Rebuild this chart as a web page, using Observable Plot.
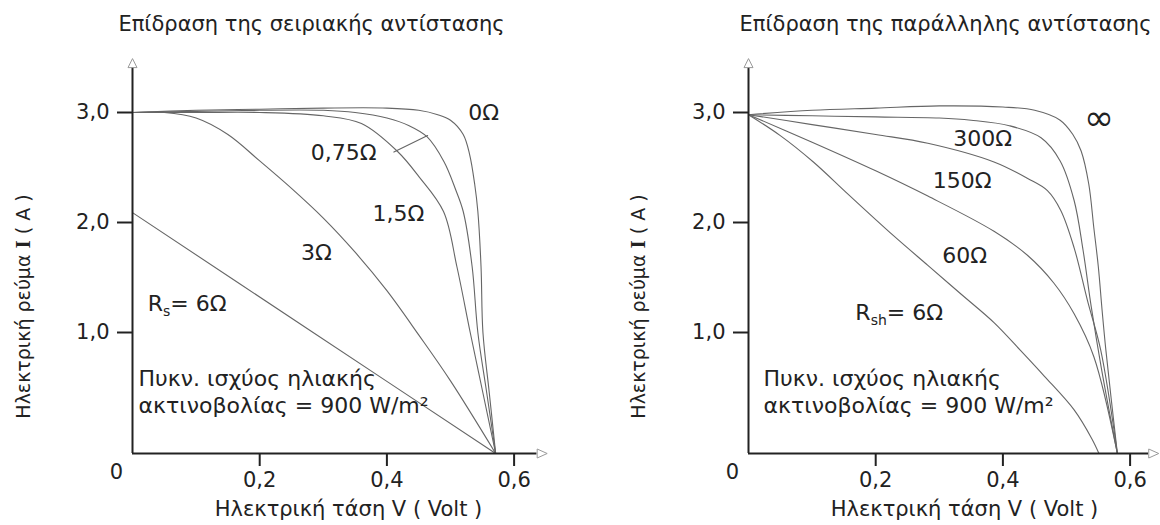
<!DOCTYPE html>
<html><head><meta charset="utf-8">
<script src="https://cdn.jsdelivr.net/npm/d3@7"></script>
<script src="https://cdn.jsdelivr.net/npm/@observablehq/plot@0.6"></script>
<style>
html,body{margin:0;padding:0;background:#fff;}
#wrap{display:flex;width:1160px;height:525px;overflow:hidden;}
#wrap svg{flex:none;}
</style></head><body><div id="wrap"></div>
<script>
// ---------- data ----------
const xTicks = [0.2, 0.4, 0.6];
const yTicks = [1.0, 2.0, 3.0];

// left panel: series resistance (V in volt, I in ampere)
const rs0   = [[0,3.0],[0.1,3.02],[0.2,3.03],[0.3,3.04],[0.4,3.04],[0.45,3.02],[0.48,2.98],[0.5,2.93],[0.52,2.8],[0.53,2.62],[0.538,2.35],[0.543,2.1],[0.548,1.6],[0.551,1.0],[0.561,0.5],[0.571,0]];
const rs075 = [[0,3.0],[0.1,3.01],[0.2,3.02],[0.3,3.02],[0.35,3.0],[0.4,2.95],[0.435,2.88],[0.463,2.78],[0.49,2.55],[0.508,2.3],[0.52,2.1],[0.534,1.6],[0.543,1.0],[0.557,0.5],[0.571,0]];
const rs15  = [[0,3.0],[0.1,3.0],[0.2,3.0],[0.3,2.97],[0.36,2.9],[0.416,2.65],[0.45,2.42],[0.489,2.1],[0.51,1.6],[0.531,1.0],[0.551,0.5],[0.571,0]];
const rs3   = [[0,3.0],[0.05,3.0],[0.1,2.95],[0.15,2.8],[0.2,2.56],[0.25,2.31],[0.3,2.04],[0.35,1.73],[0.4,1.38],[0.45,0.98],[0.5,0.6],[0.571,0]];
const rs6   = [[0,2.09],[0.284,1.0],[0.571,0]];
const leader075 = [[0.411,2.64],[0.464,2.79]];

// right panel: shunt resistance
const rshInf = [[0,2.98],[0.1,3.02],[0.2,3.04],[0.3,3.06],[0.4,3.05],[0.45,3.02],[0.49,2.93],[0.51,2.8],[0.523,2.65],[0.535,2.35],[0.543,1.95],[0.55,1.6],[0.556,1.2],[0.562,0.85],[0.58,0]];
const rsh300 = [[0,2.98],[0.1,2.97],[0.2,2.96],[0.3,2.95],[0.35,2.93],[0.41,2.88],[0.46,2.77],[0.49,2.56],[0.512,2.2],[0.526,1.75],[0.539,1.23],[0.555,0.7],[0.58,0]];
const rsh150 = [[0,2.98],[0.1,2.89],[0.2,2.8],[0.282,2.72],[0.386,2.55],[0.439,2.4],[0.47,2.29],[0.491,2.11],[0.512,1.77],[0.533,1.29],[0.554,0.85],[0.58,0]];
const rsh60  = [[0,2.98],[0.1,2.73],[0.2,2.47],[0.282,2.24],[0.386,1.92],[0.439,1.7],[0.48,1.45],[0.512,1.17],[0.543,0.8],[0.58,0]];
const rsh6   = [[0,2.98],[0.05,2.79],[0.102,2.55],[0.156,2.26],[0.228,1.88],[0.282,1.61],[0.334,1.35],[0.386,1.09],[0.428,0.85],[0.465,0.64],[0.512,0.36],[0.54,0.12],[0.551,0]];

// curve labels: text, V, I
const leftLabels  = [["0Ω",0.552,3.0],["0,75Ω",0.332,2.636],["1,5Ω",0.418,2.08],["3Ω",0.289,1.72]];
const rightLabels = [["300Ω",0.368,2.76],["150Ω",0.336,2.38],["60Ω",0.34,1.70]];
const infLabel = ["∞",0.551,2.945];
const leftSubLabel  = ["R|s|= 6Ω",0.024,1.26];
const rightSubLabel = ["R|sh|= 6Ω",0.168,1.18];

const titles = ["Επίδραση της σειριακής αντίστασης","Επίδραση της παράλληλης αντίστασης"];
const yTitle = "Ηλεκτρική ρεύμα |I| ( A )";
const xTitle = "Ηλεκτρική τάση V ( Volt )";
const note = "Πυκν. ισχύος ηλιακής\nακτινοβολίας = 900 W/m²";

// ---------- drawing ----------
const fmt = d => d.toFixed(1).replace(".", ",");
const FONT = "DejaVu Sans";
const INK = "#222";
const CURVE = "#666";
// the printed current axis is not evenly spaced: 0→1 is drawn a little longer than 1→2, 2→3
const yWarp = I => (I <= 1 ? I * 121 : 121 + (I - 1) * 110);
const upTri = {draw(c){c.moveTo(0,0);c.lineTo(-4.5,9);c.lineTo(4.5,9);c.closePath();}};
const rightTri = {draw(c){c.moveTo(0,0);c.lineTo(-10,-4.5);c.lineTo(-10,4.5);c.closePath();}};

function toRows(series){
  return series.flatMap(([name, pts]) => pts.map(([V,I]) => ({name, V, I})));
}

function panel(cfg){
  const ml = cfg.ml;
  const at = (x, y) => ({frameAnchor: "top-left", dx: x - ml, dy: y, lineAnchor: "middle"});
  const svg = Plot.plot({
    width: 580, height: 525,
    marginLeft: ml, marginTop: 0, marginRight: 0, marginBottom: 72,
    x: {domain: [0, 0.6], range: [ml, ml + 0.6 * 636]},
    y: {transform: yWarp, domain: [0, yWarp(3)], range: [453, 112]},
    style: {fontFamily: FONT, fontSize: "21px", color: INK, background: "white"},
    marks: [
      Plot.line(toRows(cfg.curves), {x: "V", y: "I", z: "name", stroke: CURVE, strokeWidth: 1.1, curve: "catmull-rom"}),
      cfg.leader ? Plot.line(cfg.leader, {x: d => d[0], y: d => d[1], stroke: CURVE, strokeWidth: 1.1}) : null,
      Plot.ruleX([0], {y1: 0, y2: 3.41, stroke: INK, strokeWidth: 2}),
      Plot.ruleY([0], {x1: 0, x2: cfg.xArrow - 0.016, stroke: INK, strokeWidth: 2}),
      Plot.dot([[0, 3.49]], {x: d => d[0], y: d => d[1], symbol: upTri, r: 5, stroke: "#999", fill: "white", strokeWidth: 1}),
      Plot.dot([[cfg.xArrow, 0]], {x: d => d[0], y: d => d[1], symbol: rightTri, r: 5, stroke: "#999", fill: "white", strokeWidth: 1}),
      Plot.axisY(yTicks, {anchor: "left", tickSize: 15, tickPadding: 8, tickFormat: fmt, stroke: INK, strokeWidth: 2, fill: INK, fontSize: 21, label: null}),
      Plot.axisX(xTicks, {anchor: "bottom", tickSize: 13, tickPadding: 6, tickFormat: fmt, stroke: INK, strokeWidth: 2, fill: INK, fontSize: 21, label: null}),
      Plot.text(["0"], {x: 0, y: 0, dx: -16, dy: 19, fill: INK, fontSize: 21}),
      Plot.text(cfg.labels, {x: d => d[1], y: d => d[2], text: d => d[0], fill: INK, fontSize: 22}),
      cfg.inf ? Plot.text([cfg.inf], {x: d => d[1], y: d => d[2], text: d => d[0], fill: INK, fontSize: 36}) : null,
      Plot.text([cfg.sub], {x: d => d[1], y: d => d[2], text: d => d[0], textAnchor: "start", fill: INK, fontSize: 22}),
      Plot.text([note], {x: 0, y: 0.52, dx: cfg.noteDx, textAnchor: "start", lineAnchor: "middle", lineHeight: 1.27, fill: INK, fontSize: 22}),
      Plot.text([cfg.title], {...at(cfg.titleX, 24), textAnchor: "middle", fill: INK, fontSize: 21}),
      Plot.text([xTitle], {...at(ml + 216, 509), textAnchor: "middle", fill: INK, fontSize: 21}),
      Plot.text([yTitle], {...at(cfg.yTitleX, 306), rotate: -90, textAnchor: "middle", fill: INK, fontSize: 19})
    ]
  });
  const ns = "http://www.w3.org/2000/svg";
  svg.querySelectorAll("text").forEach(t => {
    const full = t.textContent;
    if (!full.includes("|")) return;
    const parts = full.split("|");
    const isY = full.startsWith("Ηλεκτρική ρεύμα");
    while (t.firstChild) t.removeChild(t.firstChild);
    parts.forEach((p, i) => {
      const s = document.createElementNS(ns, "tspan");
      s.textContent = p;
      if (isY && i === 1) { s.setAttribute("font-family", "Liberation Serif"); s.setAttribute("font-weight", "bold"); s.setAttribute("font-size", "21"); }
      if (!isY && i === 1) { s.setAttribute("font-size", "14"); s.setAttribute("dy", "5"); }
      if (!isY && i === 2) { s.setAttribute("dy", "-5"); }
      t.appendChild(s);
    });
  });
  return svg;
}

const wrap = document.getElementById("wrap");
wrap.appendChild(panel({
  ml: 132, xArrow: 0.652, titleX: 311, yTitleX: 23, noteDx: 6,
  curves: [["0",rs0],["0.75",rs075],["1.5",rs15],["3",rs3],["6",rs6]],
  leader: leader075, labels: leftLabels, sub: leftSubLabel, title: titles[0]
}));
wrap.appendChild(panel({
  ml: 168, xArrow: 0.645, titleX: 365, yTitleX: 58, noteDx: 15,
  curves: [["inf",rshInf],["300",rsh300],["150",rsh150],["60",rsh60],["6",rsh6]],
  labels: rightLabels, inf: infLabel, sub: rightSubLabel, title: titles[1]
}));
</script></body></html>
